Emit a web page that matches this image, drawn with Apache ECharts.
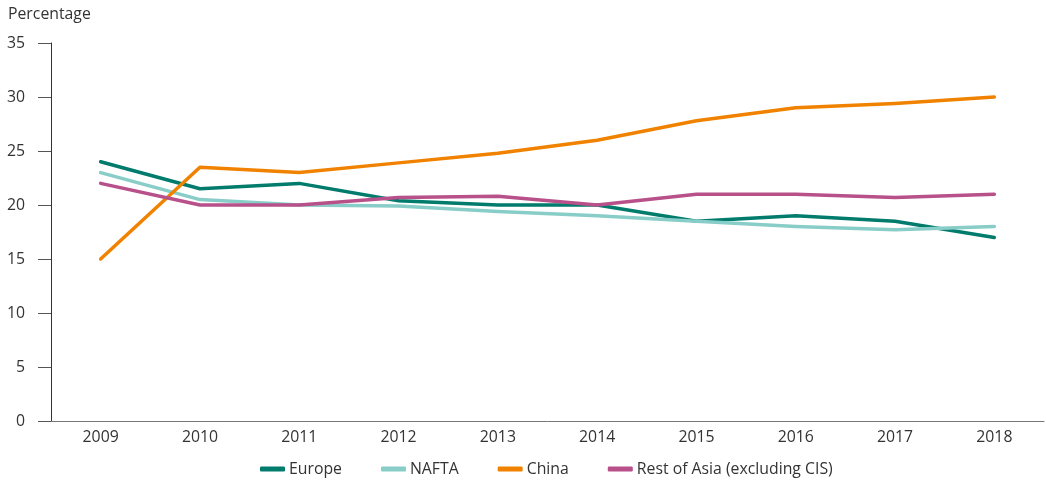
<!DOCTYPE html>
<html>
<head>
    <meta charset="UTF-8"/>
    <script type="text/javascript" src="https://cdn.jsdelivr.net/npm/echarts@6/dist/echarts.min.js"></script>
    <title>Percentage</title>
    <style>
        html, body { margin: 0; padding: 0; background: #fff; }
        #lineChart { width: 1046px; height: 480px; }
    </style>
</head>
<body>
<div id="lineChart"></div>

<script type="application/javascript">
    var years = ['2009', '2010', '2011', '2012', '2013', '2014', '2015', '2016', '2017', '2018'];
    var europe = [24, 21.5, 22, 20.4, 20, 20, 18.5, 19, 18.5, 17];
    var nafta = [23, 20.5, 20, 19.9, 19.4, 19, 18.5, 18, 17.7, 18];
    var china = [15, 23.5, 23, 23.9, 24.8, 26, 27.8, 29, 29.4, 30];
    var restOfAsia = [22, 20, 20, 20.7, 20.8, 20, 21, 21, 20.7, 21];
    var seriesNames = ['Europe', 'NAFTA', 'China', 'Rest of Asia (excluding CIS)'];
    var seriesColors = ['#007b6c', '#88cdc8', '#f08200', '#b8508a'];

    var font = '"Open Sans", "Noto Sans", sans-serif';
    var fs = 15.8;

    function makeLine(name, values, color) {
        return {
            name: name,
            type: 'line',
            data: values,
            symbol: 'none',
            lineStyle: { width: 3.5, color: color, cap: 'round', join: 'round' },
            itemStyle: { color: color }
        };
    }

    var myChart = echarts.init(document.getElementById('lineChart'));
    var option = {
        animation: false,
        textStyle: { fontFamily: font },
        title: {
            text: 'Percentage',
            left: 3,
            top: 1,
            textStyle: { fontFamily: font, fontSize: fs, fontWeight: 'normal', color: '#333' }
        },
        legend: {
            bottom: -2,
            left: 255,
            itemWidth: 25,
            itemHeight: 5,
            itemGap: 39,
            icon: 'roundRect',
            textStyle: { fontFamily: font, fontSize: fs, color: '#333', padding: [0, 0, 0, -1] },
            data: seriesNames
        },
        grid: { left: 51, right: 2, top: 43, bottom: 59 },
        xAxis: {
            type: 'category',
            data: years,
            boundaryGap: true,
            axisLine: { lineStyle: { color: '#777', width: 1 } },
            axisTick: { show: false },
            axisLabel: { fontFamily: font, fontSize: fs, color: '#333', margin: 8 }
        },
        yAxis: {
            type: 'value',
            min: 0,
            max: 35,
            interval: 5,
            axisLine: { show: true, lineStyle: { color: '#333', width: 1 } },
            axisTick: { show: true, length: 13, lineStyle: { color: '#555' } },
            splitLine: { show: false },
            axisLabel: { fontFamily: font, fontSize: fs, color: '#333', margin: 26 }
        },
        series: [
            makeLine(seriesNames[0], europe, seriesColors[0]),
            makeLine(seriesNames[1], nafta, seriesColors[1]),
            makeLine(seriesNames[2], china, seriesColors[2]),
            makeLine(seriesNames[3], restOfAsia, seriesColors[3])
        ]
    };
    myChart.setOption(option);
</script>
</body>
</html>
